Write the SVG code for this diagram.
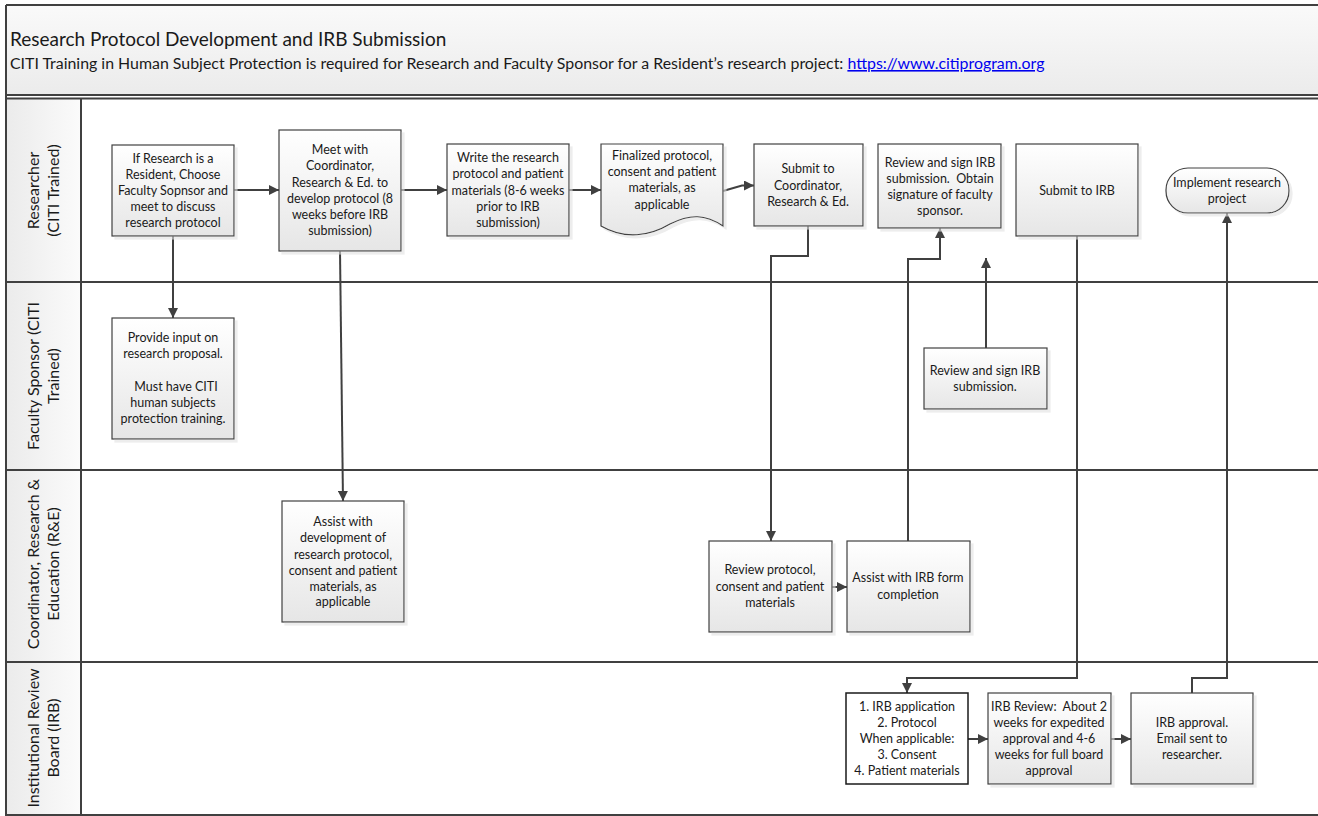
<svg xmlns="http://www.w3.org/2000/svg" width="1318" height="816" viewBox="0 0 1318 816">
<defs>
<linearGradient id="gNode" x1="0" y1="0" x2="0" y2="1">
<stop offset="0" stop-color="#ffffff"/>
<stop offset="1" stop-color="#e6e6e6"/>
</linearGradient>
<linearGradient id="gTitle" x1="0" y1="0" x2="0" y2="1">
<stop offset="0" stop-color="#fafafa"/>
<stop offset="1" stop-color="#ebebeb"/>
</linearGradient>
<linearGradient id="gLane" x1="0" y1="0" x2="1" y2="0">
<stop offset="0" stop-color="#ebebeb"/>
<stop offset="1" stop-color="#fbfbfb"/>
</linearGradient>
<marker id="arr" viewBox="0 0 10 10" refX="10" refY="5" markerWidth="10" markerHeight="10" markerUnits="userSpaceOnUse" orient="auto">
<path d="M0,0 L10,5 L0,10 z" fill="#404040"/>
</marker>
<filter id="sh" x="-10%" y="-10%" width="130%" height="130%">
<feOffset in="SourceAlpha" dx="3" dy="3" result="o"/>
<feColorMatrix in="o" type="matrix" values="0 0 0 0 0.75  0 0 0 0 0.75  0 0 0 0 0.75  0 0 0 0.6 0" result="c"/>
<feMerge><feMergeNode in="c"/><feMergeNode in="SourceGraphic"/></feMerge>
</filter>
</defs>
<style>
.box{fill:url(#gNode);stroke:#404040;stroke-width:1.2;filter:url(#sh)}
.wbox{fill:#ffffff;stroke:#1a1a1a;stroke-width:1.5}
.t{font-family:Lato,"Liberation Sans",sans-serif;font-size:12.5px;fill:#1a1a1a;text-anchor:middle;white-space:pre}
.lane{font-family:Lato,"Liberation Sans",sans-serif;font-size:16px;fill:#1a1a1a;text-anchor:middle}
.sep{stroke:#404040;stroke-width:2;fill:none}
.c{stroke:#404040;stroke-width:2;fill:none}
.ca{stroke:#404040;stroke-width:2;fill:none;marker-end:url(#arr)}
</style>
<rect x="0" y="0" width="1318" height="816" fill="#ffffff"/>
<g id="frame">
<rect x="6" y="5" width="1320" height="90" fill="url(#gTitle)"/>
<rect x="6" y="99" width="75" height="716" fill="url(#gLane)"/>
<path class="sep" d="M6,5 H1320 M6,5 V815 H1320 M6,95 H1320 M6,98.5 H1320 M81,99 V815 M6,282 H1320 M6,470 H1320 M6,662 H1320"/>
<text x="10" y="46" font-family="Lato,'Liberation Sans',sans-serif" font-size="19px" fill="#1a1a1a">Research Protocol Development and IRB Submission</text>
<text x="10" y="69" font-family="Lato,'Liberation Sans',sans-serif" font-size="15.9px" fill="#1a1a1a">CITI Training in Human Subject Protection is required for Research and Faculty Sponsor for a Resident’s research project: <tspan fill="#0000ee" text-decoration="underline">https://www.citiprogram.org</tspan></text>
</g>
<g id="lane-researcher">
<text class="lane" transform="translate(39,190.5) rotate(-90)">Researcher</text>
<text class="lane" transform="translate(59,190.5) rotate(-90)">(CITI Trained)</text>
</g>
<g id="lane-faculty">
<text class="lane" transform="translate(39,376) rotate(-90)">Faculty Sponsor (CITI</text>
<text class="lane" transform="translate(59,376) rotate(-90)">Trained)</text>
</g>
<g id="lane-coordinator">
<text class="lane" transform="translate(39,564) rotate(-90)">Coordinator, Research &amp;</text>
<text class="lane" transform="translate(59,564) rotate(-90)">Education (R&amp;E)</text>
</g>
<g id="lane-irb">
<text class="lane" transform="translate(39,738) rotate(-90)">Institutional Review</text>
<text class="lane" transform="translate(59,738) rotate(-90)">Board (IRB)</text>
</g>
<g id="connectors">
<path class="ca" d="M234,190 H279"/>
<path class="ca" d="M401,190 H447"/>
<path class="ca" d="M569,190 H601"/>
<path class="ca" d="M723,191 L742,185.5 H754"/>
<path class="ca" d="M173,236 V318"/>
<path class="ca" d="M340,251 L343,501"/>
<path class="ca" d="M808,226 V256 H771 V541"/>
<path class="ca" d="M908,541 V259 H940 V228"/>
<path class="ca" d="M986,348 V258"/>
<path class="ca" d="M1077,236 V678 H907 V693"/>
<path class="ca" d="M832,587 H847"/>
<path class="ca" d="M968,739 H988"/>
<path class="ca" d="M1111,739 H1131"/>
<path class="ca" d="M1192,693 V678 H1227 V213"/>
</g>
<g id="n1">
<rect class="box" x="112" y="145" width="122" height="91"/>
<text class="t"><tspan x="173" y="163">If Research is a</tspan><tspan x="173" y="179">Resident, Choose</tspan><tspan x="173" y="195">Faculty Sopnsor and</tspan><tspan x="173" y="211">meet to discuss</tspan><tspan x="173" y="227">research protocol</tspan></text>
</g>
<g id="n2">
<rect class="box" x="279" y="130" width="122" height="121"/>
<text class="t"><tspan x="340" y="154">Meet with</tspan><tspan x="340" y="170">Coordinator,</tspan><tspan x="340" y="187">Research &amp; Ed. to</tspan><tspan x="340" y="203">develop protocol (8</tspan><tspan x="340" y="219">weeks before IRB</tspan><tspan x="340" y="235">submission)</tspan></text>
</g>
<g id="n3">
<rect class="box" x="447" y="144" width="122" height="92"/>
<text class="t"><tspan x="508" y="162">Write the research</tspan><tspan x="508" y="178">protocol and patient</tspan><tspan x="508" y="195">materials (8-6 weeks</tspan><tspan x="508" y="211">prior to IRB</tspan><tspan x="508" y="227">submission)</tspan></text>
</g>
<g id="n4">
<path class="box" d="M601,144 H723 V226 C705,214 690,214 670,224 C650,236 625,240 601,226 Z"/>
<text class="t"><tspan x="662" y="160">Finalized protocol,</tspan><tspan x="662" y="176">consent and patient</tspan><tspan x="662" y="192">materials, as</tspan><tspan x="662" y="209">applicable</tspan></text>
</g>
<g id="n5">
<rect class="box" x="754" y="144" width="109" height="82"/>
<text class="t"><tspan x="808" y="173">Submit to</tspan><tspan x="808" y="190">Coordinator,</tspan><tspan x="808" y="206">Research &amp; Ed.</tspan></text>
</g>
<g id="n6">
<rect class="box" x="878" y="144" width="123" height="84"/>
<text class="t"><tspan x="940" y="167">Review and sign IRB</tspan><tspan x="940" y="183">submission.  Obtain</tspan><tspan x="940" y="199">signature of faculty</tspan><tspan x="940" y="215">sponsor.</tspan></text>
</g>
<g id="n7">
<rect class="box" x="1016" y="144" width="122" height="92"/>
<text class="t"><tspan x="1077" y="195">Submit to IRB</tspan></text>
</g>
<g id="n8">
<rect class="box" x="1166" y="168" width="123" height="45" rx="22" ry="22"/>
<text class="t"><tspan x="1227" y="187">Implement research</tspan><tspan x="1227" y="203">project</tspan></text>
</g>
<g id="n9">
<rect class="box" x="112" y="318" width="122" height="121"/>
<text class="t"><tspan x="173" y="342">Provide input on</tspan><tspan x="173" y="358">research proposal.</tspan><tspan x="176" y="391">Must have CITI</tspan><tspan x="173" y="407">human subjects</tspan><tspan x="173" y="423">protection training.</tspan></text>
</g>
<g id="n10">
<rect class="box" x="924" y="348" width="123" height="61"/>
<text class="t"><tspan x="985" y="375">Review and sign IRB</tspan><tspan x="985" y="391">submission.</tspan></text>
</g>
<g id="n11">
<rect class="box" x="282" y="501" width="122" height="121"/>
<text class="t"><tspan x="343" y="526">Assist with</tspan><tspan x="343" y="542">development of</tspan><tspan x="343" y="559">research protocol,</tspan><tspan x="343" y="575">consent and patient</tspan><tspan x="343" y="591">materials, as</tspan><tspan x="343" y="606">applicable</tspan></text>
</g>
<g id="n12">
<rect class="box" x="709" y="541" width="123" height="91"/>
<text class="t"><tspan x="770" y="574">Review protocol,</tspan><tspan x="770" y="591">consent and patient</tspan><tspan x="770" y="607">materials</tspan></text>
</g>
<g id="n13">
<rect class="box" x="847" y="541" width="123" height="91"/>
<text class="t"><tspan x="908" y="582">Assist with IRB form</tspan><tspan x="908" y="599">completion</tspan></text>
</g>
<g id="n14">
<rect class="wbox" x="846" y="693" width="122" height="91"/>
<text class="t"><tspan x="907" y="711">1. IRB application</tspan><tspan x="907" y="727">2. Protocol</tspan><tspan x="907" y="743">When applicable:</tspan><tspan x="907" y="759">3. Consent</tspan><tspan x="907" y="775">4. Patient materials</tspan></text>
</g>
<g id="n15">
<rect class="box" x="988" y="693" width="123" height="91"/>
<text class="t"><tspan x="1049" y="711">IRB Review:  About 2</tspan><tspan x="1049" y="727">weeks for expedited</tspan><tspan x="1049" y="743">approval and 4-6</tspan><tspan x="1049" y="759">weeks for full board</tspan><tspan x="1049" y="775">approval</tspan></text>
</g>
<g id="n16">
<rect class="box" x="1131" y="693" width="122" height="91"/>
<text class="t"><tspan x="1192" y="727">IRB approval.</tspan><tspan x="1192" y="743">Email sent to</tspan><tspan x="1192" y="759">researcher.</tspan></text>
</g>
</svg>
